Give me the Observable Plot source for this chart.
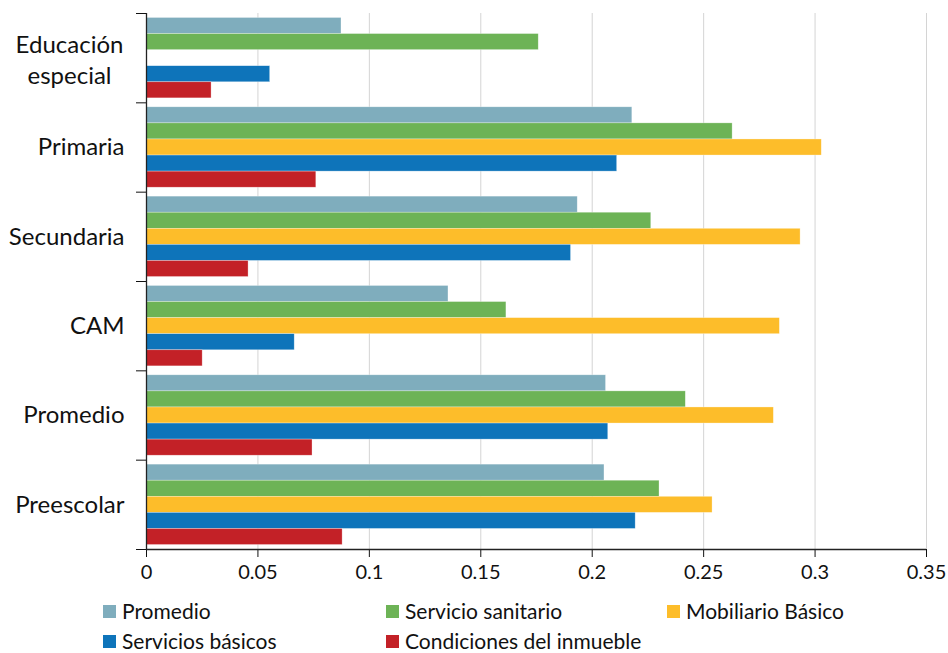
<!DOCTYPE html>
<html>
<head>
<meta charset="utf-8">
<script src="https://cdn.jsdelivr.net/npm/d3@7"></script>
<script src="https://cdn.jsdelivr.net/npm/@observablehq/plot@0.6"></script>
<style>
  body { margin: 0; background: #fff; font-family: Lato, "DejaVu Sans", sans-serif; }
  #wrap { position: relative; width: 948px; height: 653px; overflow: hidden; }
  .leg { position: absolute; display: flex; align-items: center; font-size: 21px; line-height: 20px; height: 20px; color: #111; white-space: nowrap; }
  .sw { width: 13px; height: 13px; margin-right: 6px; }
</style>
</head>
<body>
<div id="wrap"></div>
<script>
// Categories (top to bottom)
const categories = ["Educación especial", "Primaria", "Secundaria", "CAM", "Promedio", "Preescolar"];
const categoryLabels = ["Educación\nespecial", "Primaria", "Secundaria", "CAM", "Promedio", "Preescolar"];

// Series (in bar order within each group)
const seriesNames = ["Promedio", "Servicio sanitario", "Mobiliario Básico", "Servicios básicos", "Condiciones del inmueble"];
const seriesColors = ["#7FADBD", "#6DB356", "#FDBD2A", "#0E74BA", "#C32127"];

const promedio      = [0.0875, 0.218, 0.1935, 0.1355, 0.2062, 0.2055];
const sanitario     = [0.176,  0.263, 0.2265, 0.1615, 0.242,  0.2302];
const mobiliario    = [null,   0.303, 0.2935, 0.2842, 0.2815, 0.254];
const basicos       = [0.0555, 0.2112, 0.1905, 0.0665, 0.2072, 0.2195];
const condiciones   = [0.0292, 0.0762, 0.0458, 0.0252, 0.0745, 0.088];

const xTicks = [0, 0.05, 0.1, 0.15, 0.2, 0.25, 0.3, 0.35];

const seriesValues = [promedio, sanitario, mobiliario, basicos, condiciones];

// Build table: each bar occupies a slot within its category band (band = 1 unit on a linear y)
const groupPad = 0.05, barH = 0.18;
const rows = [];
categories.forEach((c, ci) => {
  seriesNames.forEach((s, si) => {
    const v = seriesValues[si][ci];
    if (v == null) return;
    const y1 = ci + groupPad + si * barH;
    rows.push({category: c, series: s, value: v, y1, y2: y1 + barH});
  });
});
const labelRows = categories.map((c, ci) => ({label: categoryLabels[ci], pos: ci + 0.5, multi: categoryLabels[ci].includes("\n")}));

const chart = Plot.plot({
  width: 948,
  height: 590,
  marginTop: 13,
  marginBottom: 41,
  marginLeft: 146,
  marginRight: 22,
  style: {fontFamily: "Lato, 'DejaVu Sans', sans-serif", fontSize: "20px", color: "#111", background: "#fff", overflow: "visible"},
  x: {domain: [0, 0.35], ticks: xTicks, tickFormat: d => String(+d.toFixed(2)), tickSize: 8, tickPadding: 7, label: null},
  y: {type: "linear", domain: [0, categories.length], reverse: true, ticks: d3.range(categories.length + 1), tickFormat: () => "", tickSize: 10, label: null},
  color: {domain: seriesNames, range: seriesColors},
  marks: [
    Plot.ruleX(xTicks.slice(1), {stroke: "#d4d4d4", strokeWidth: 1}),
    Plot.rectX(rows, {x1: 0, x2: "value", y1: "y1", y2: "y2", fill: "series", stroke: "#ffffff", strokeWidth: 0.6, strokeOpacity: 0.5}),
    Plot.ruleX([0], {stroke: "#222", strokeWidth: 1.3}),
    Plot.ruleY([categories.length], {stroke: "#222", strokeWidth: 1.3}),
    Plot.text(labelRows.filter(d => !d.multi), {x: 0, y: "pos", text: "label", textAnchor: "end", dx: -22, fontSize: 24, fill: "#111"}),
    Plot.text(labelRows.filter(d => d.multi), {x: 0, y: "pos", text: "label", textAnchor: "middle", dx: -77, fontSize: 24, lineHeight: 1.3, fill: "#111"})
  ]
});

const wrap = document.getElementById("wrap");
wrap.appendChild(chart);

const legendPos = [
  {left: 103, top: 601}, {left: 386, top: 601}, {left: 667, top: 601},
  {left: 103, top: 631}, {left: 386, top: 631}
];
seriesNames.forEach((s, i) => {
  const item = document.createElement("div");
  item.className = "leg";
  item.style.left = legendPos[i].left + "px";
  item.style.top = legendPos[i].top + "px";
  const sw = document.createElement("span");
  sw.className = "sw";
  sw.style.background = seriesColors[i];
  const t = document.createElement("span");
  t.textContent = s;
  item.appendChild(sw);
  item.appendChild(t);
  wrap.appendChild(item);
});
</script>
</body>
</html>
